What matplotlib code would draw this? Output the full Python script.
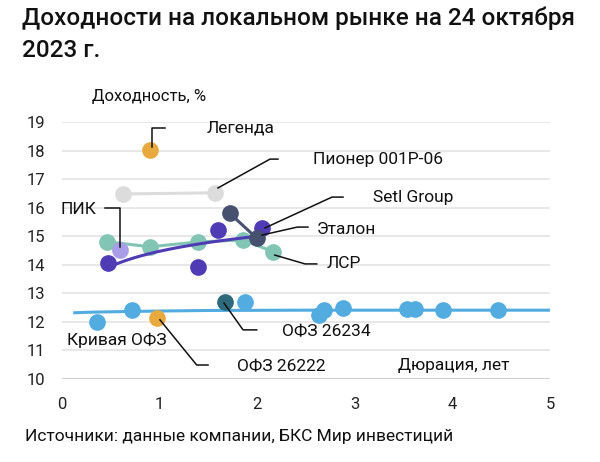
import numpy as np
import matplotlib
matplotlib.use("Agg")
import matplotlib.pyplot as plt

plt.rcParams['font.family'] = ['Roboto', 'DejaVu Sans']

# Кривая ОФЗ: точки и сглаженная кривая
ofz_x = [0.36, 0.714, 1.875, 2.63, 2.68, 2.875, 3.53, 3.62, 3.90, 4.47]
ofz_y = [12.01, 12.42, 12.71, 12.24, 12.42, 12.48, 12.45, 12.45, 12.42, 12.42]
ofz_curve_x = [0.13, 0.3, 0.6, 1.0, 1.5, 2.5, 3.5, 5.0]
ofz_curve_y = [12.32, 12.34, 12.36, 12.38, 12.40, 12.41, 12.41, 12.41]

ofz26222 = (0.97, 12.15)
ofz26234 = (1.67, 12.69)
legend_pt = (0.90, 18.02)

pioneer_x = [0.628, 1.568]
pioneer_y = [16.48, 16.52]

setl_x = [0.475, 1.397, 1.60, 2.046]
setl_y = [14.05, 13.93, 15.22, 15.28]

etalon_x = [1.72, 1.995]
etalon_y = [15.80, 14.93]

lsr_x = [0.458, 0.90, 1.397, 1.857, 2.16]
lsr_y = [14.81, 14.63, 14.80, 14.87, 14.46]

pik = (0.594, 14.52)

# цвета
c_blue = '#52ace0'
c_orange = '#e8aa3e'
c_gray = '#dcdcdc'
c_purple = '#4f3cb4'
c_lpurple = '#a99de8'
c_slate = '#45516f'
c_teal = '#82c5b5'
c_dteal = '#2e6a7c'

fig = plt.figure(figsize=(6, 4.62), dpi=100)
ax = fig.add_axes([62/600, 1 - 379/462, 488/600, 257/462])
ax.set_xlim(0, 5)
ax.set_ylim(10, 19)

for v in range(11, 20):
    ax.axhline(v, color='#e4e4e4', lw=1.2, zorder=0)
ax.axhline(10, color='#d2d2d2', lw=2.2, zorder=0)
for s in ax.spines.values():
    s.set_visible(False)

ms = 11
# Пионер
ax.plot(pioneer_x, pioneer_y, color=c_gray, lw=2.2, marker='o', ms=ms, zorder=2)
# ЛСР
ax.plot(lsr_x, lsr_y, color=c_teal, lw=2.2, marker='o', ms=ms, zorder=3)
# Setl Group + лог. тренд
b, a = np.polyfit(np.log(setl_x), setl_y, 1)
tx = np.linspace(min(setl_x) + 0.08, max(setl_x), 100)
ax.plot(setl_x, setl_y, 'o', color=c_purple, ms=ms, zorder=4)
ax.plot(tx, a + b * np.log(tx), color=c_purple, lw=2.2, zorder=4)
# Эталон
ax.plot(etalon_x, etalon_y, color=c_slate, lw=2.2, marker='o', ms=ms, zorder=5)
# ПИК
ax.plot(*pik, 'o', color=c_lpurple, ms=ms, zorder=3)
# ОФЗ
ax.plot(ofz_curve_x, ofz_curve_y, color=c_blue, lw=2.2, zorder=2)
ax.plot(ofz_x, ofz_y, 'o', color=c_blue, ms=ms, zorder=3)
ax.plot(*ofz26222, 'o', color=c_orange, ms=ms, zorder=4)
ax.plot(*ofz26234, 'o', color=c_dteal, ms=ms, zorder=4)
# Легенда
ax.plot(*legend_pt, 'o', color=c_orange, ms=ms, zorder=4)

ax.set_xticks(range(0, 6))
ax.set_yticks(range(10, 20))
ax.tick_params(length=0, labelsize=12, colors='#222222')
ax.tick_params(axis='y', pad=12)
ax.tick_params(axis='x', pad=13)

# выноски
leaders = [
    ([0.922, 0.922, 1.055], [18.12, 18.79, 18.79]),
    ([1.598, 2.131, 2.213], [16.69, 17.70, 17.70]),
    ([2.08, 2.766, 2.879], [15.29, 16.37, 16.37]),
    ([2.049, 2.41, 2.52], [15.04, 15.32, 15.32]),
    ([2.18, 2.49, 2.61], [14.34, 14.03, 14.03]),
    ([0.594, 0.594, 0.44], [14.62, 15.99, 15.99]),
    ([1.004, 1.38, 1.496], [12.07, 10.49, 10.49]),
    ([1.66, 1.855, 1.995], [12.66, 11.72, 11.72]),
]
for lx, ly in leaders:
    ax.plot(lx, ly, color='#111111', lw=1.1, zorder=6, clip_on=False)

labels = [
    ('Легенда', 1.486, 18.79),
    ('Пионер 001Р-06', 2.572, 17.70),
    ('Setl Group', 3.19, 16.37),
    ('Эталон', 2.61, 15.24),
    ('ЛСР', 2.71, 14.03),
    ('ПИК', -0.02, 15.92),
    ('Кривая ОФЗ', 0.048, 11.37),
    ('ОФЗ 26222', 1.79, 10.43),
    ('ОФЗ 26234', 2.25, 11.66),
    ('Дюрация, лет', 3.44, 10.49),
]
for t, x, y in labels:
    ax.text(x, y, t, fontsize=12.5, color='#111111', va='center', ha='left',
            clip_on=False, zorder=7)

fig.text(92/600, 1 - 96/462, 'Доходность, %', fontsize=12, color='#111111',
         va='center', ha='left')
fig.text(22/600, 1 - 7/462, 'Доходности на локальном рынке на 24 октября\n2023 г.',
         fontsize=17.5, fontweight='medium', color='#111111', va='top', ha='left',
         linespacing=1.45)
fig.text(25/600, 1 - 437/462, 'Источники: данные компании, БКС Мир инвестиций',
         fontsize=12.5, color='#111111', va='center', ha='left')

fig.savefig('out.png', dpi=100)
